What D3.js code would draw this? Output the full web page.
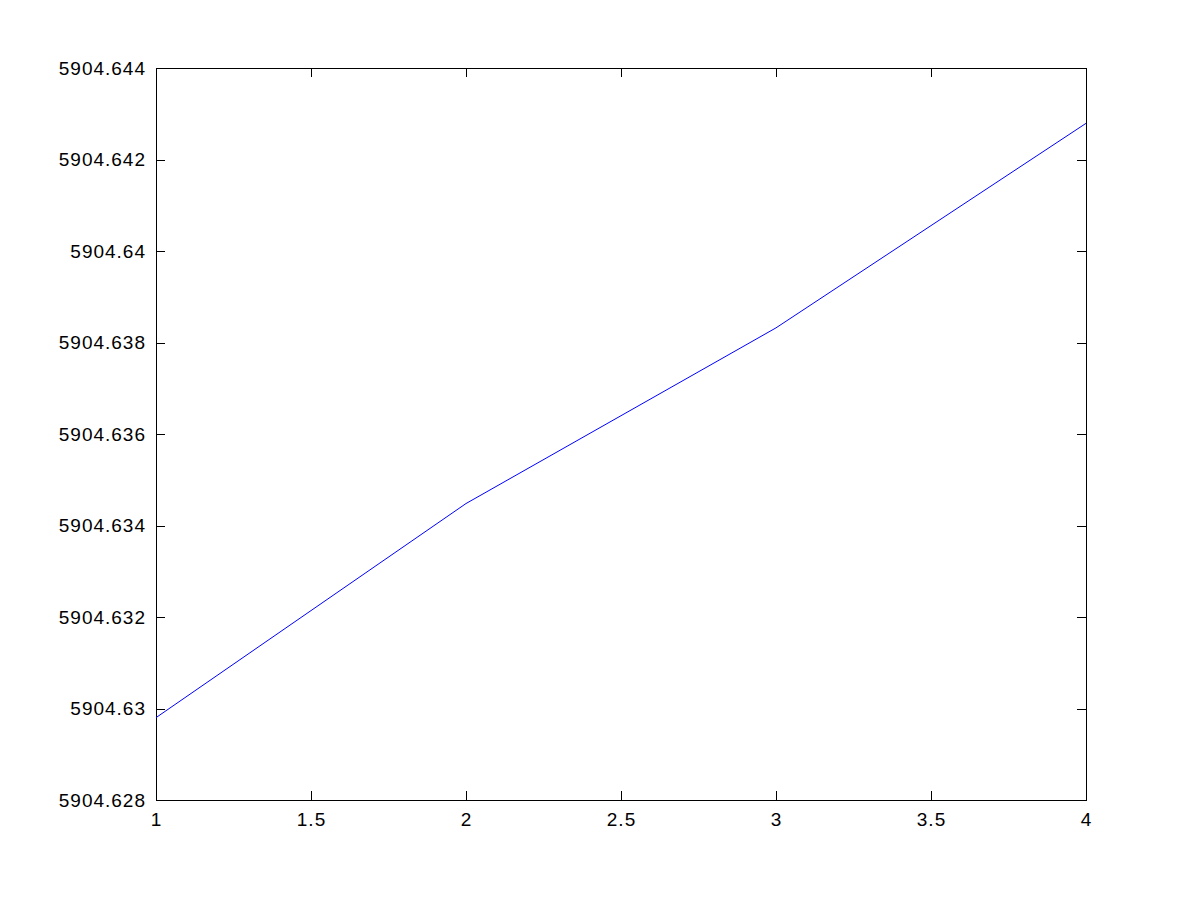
<!DOCTYPE html>
<html>
<head>
<meta charset="utf-8">
<script src="https://cdn.jsdelivr.net/npm/d3@7"></script>
<style>
  body { margin: 0; background: #fff; }
  text { font-family: "Liberation Sans", Arial, sans-serif; font-size: 19px; fill: #000; }
</style>
</head>
<body>
<div id="chart"></div>
<script>
var xValues = [1, 2, 3, 4];
var yValues = [5904.6298, 5904.63448, 5904.63832, 5904.64279];
var xTicks = [1, 1.5, 2, 2.5, 3, 3.5, 4];
var yTicks = [5904.628, 5904.630, 5904.632, 5904.634, 5904.636, 5904.638, 5904.640, 5904.642, 5904.644];

var svgWidth = 1200;
var svgHeight = 900;

var margin = { top: 68, right: 114, bottom: 100, left: 156 };
var width = svgWidth - margin.left - margin.right;
var height = svgHeight - margin.top - margin.bottom;

var svg = d3.select("#chart")
  .append("svg")
  .attr("width", svgWidth)
  .attr("height", svgHeight);

var chartGroup = svg.append("g")
  .attr("transform", `translate(${margin.left}, ${margin.top})`);

var xScale = d3.scaleLinear().domain([1, 4]).range([0, width]);
var yScale = d3.scaleLinear().domain([5904.628, 5904.644]).range([height, 0]);

// MATLAB-style labels: drop trailing zeros
function fmt(d) {
  return String(+d.toFixed(3));
}

var tickLen = 9;

// ticks point inward on all four sides
var bottomAxis = d3.axisBottom(xScale).tickValues(xTicks).tickSize(-tickLen).tickPadding(13).tickFormat(fmt);
var topAxis = d3.axisTop(xScale).tickValues(xTicks).tickSize(-tickLen).tickFormat("");
var leftAxis = d3.axisLeft(yScale).tickValues(yTicks).tickSize(-tickLen).tickPadding(10).tickFormat(fmt);
var rightAxis = d3.axisRight(yScale).tickValues(yTicks).tickSize(-tickLen).tickFormat("");

function style(g) {
  g.selectAll(".domain").remove();
  g.selectAll("line").attr("stroke", "#000").attr("shape-rendering", "crispEdges");
  g.selectAll("text").attr("font-size", null).attr("font-family", null).style("letter-spacing", "1px");
}

chartGroup.append("g").attr("transform", `translate(0, ${height})`).call(bottomAxis).call(style);
chartGroup.append("g").call(topAxis).call(style);
chartGroup.append("g").call(leftAxis).call(style);
chartGroup.append("g").attr("transform", `translate(${width}, 0)`).call(rightAxis).call(style);

chartGroup.append("rect")
  .attr("x", 0)
  .attr("y", 0)
  .attr("width", width)
  .attr("height", height)
  .attr("fill", "none")
  .attr("stroke", "#000")
  .attr("shape-rendering", "crispEdges");

var line = d3.line()
  .x(function(d, i) { return xScale(xValues[i]); })
  .y(function(d) { return yScale(d); });

chartGroup.append("path")
  .datum(yValues)
  .attr("d", line)
  .attr("fill", "none")
  .attr("stroke", "#0000ff")
  .attr("stroke-width", 1);
</script>
</body>
</html>
